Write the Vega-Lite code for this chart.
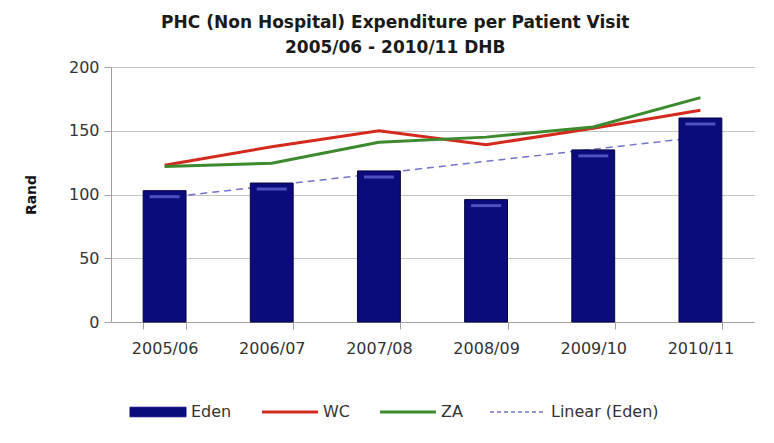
{
  "$schema": "https://vega.github.io/schema/vega-lite/v6.json",
  "width": 643,
  "height": 255,
  "padding": {"left": 24, "top": 14, "right": 18, "bottom": 10},
  "background": "white",
  "title": {
    "text": ["PHC (Non Hospital) Expenditure per Patient Visit", "2005/06 - 2010/11 DHB"],
    "font": "DejaVu Sans",
    "fontSize": 17,
    "fontWeight": "bold",
    "color": "#1a1a1a",
    "lineHeight": 25,
    "offset": 2,
    "frame": "bounds",
    "anchor": "middle",
    "dx": 6
  },
  "data": {
    "values": [
      {"period": "2005/06", "series": "Eden", "value": 103},
      {"period": "2006/07", "series": "Eden", "value": 109},
      {"period": "2007/08", "series": "Eden", "value": 118.5},
      {"period": "2008/09", "series": "Eden", "value": 96},
      {"period": "2009/10", "series": "Eden", "value": 135},
      {"period": "2010/11", "series": "Eden", "value": 160},
      {"period": "2005/06", "series": "WC", "value": 123},
      {"period": "2006/07", "series": "WC", "value": 137.5},
      {"period": "2007/08", "series": "WC", "value": 150},
      {"period": "2008/09", "series": "WC", "value": 139},
      {"period": "2009/10", "series": "WC", "value": 152},
      {"period": "2010/11", "series": "WC", "value": 166},
      {"period": "2005/06", "series": "ZA", "value": 122},
      {"period": "2006/07", "series": "ZA", "value": 124.5},
      {"period": "2007/08", "series": "ZA", "value": 141},
      {"period": "2008/09", "series": "ZA", "value": 145},
      {"period": "2009/10", "series": "ZA", "value": 153},
      {"period": "2010/11", "series": "ZA", "value": 176},
      {"period": "2005/06", "series": "Linear (Eden)", "value": 97.5},
      {"period": "2010/11", "series": "Linear (Eden)", "value": 145}
    ]
  },
  "encoding": {
    "x": {
      "field": "period",
      "type": "nominal",
      "sort": ["2005/06", "2006/07", "2007/08", "2008/09", "2009/10", "2010/11"],
      "scale": {"paddingInner": 0.6, "paddingOuter": 0.3},
      "axis": {
        "title": null,
        "labelAngle": 0,
        "labelFontSize": 16,
        "labelColor": "#333333",
        "tickBand": "extent",
        "tickSize": 7,
        "tickColor": "#a0a0a0",
        "domainColor": "#a0a0a0",
        "labelPadding": 11
      }
    },
    "y": {
      "field": "value",
      "type": "quantitative",
      "scale": {"domain": [0, 200]},
      "axis": {
        "title": "Rand",
        "values": [0, 50, 100, 150, 200],
        "labelFontSize": 16,
        "labelColor": "#333333",
        "tickSize": 7,
        "labelPadding": 5,
        "tickColor": "#a0a0a0",
        "domainColor": "#a0a0a0",
        "gridColor": "#c4c4c4",
        "titleFontSize": 14,
        "titleFontWeight": "bold",
        "titleColor": "#111111",
        "titlePadding": 30
      }
    },
    "color": {
      "field": "series",
      "type": "nominal",
      "scale": {
        "domain": ["Eden", "WC", "ZA", "Linear (Eden)"],
        "range": ["#0b0b7d", "#d42a1e", "#3d8a2e", "#7373c9"]
      },
      "legend": {
        "title": null,
        "orient": "none",
        "direction": "horizontal",
        "legendX": 19,
        "legendY": 337,
        "labelFontSize": 16,
        "labelColor": "#333333",
        "labelOffset": 6,
        "columnPadding": 24,
        "symbolType": "M-1,0H1",
        "encode": {
          "symbols": {
            "update": {
              "size": {"value": 3136},
              "x": {"value": 28},
              "shape": {"signal": "datum.value === 'Eden' ? 'M-1,-0.17H1V0.17H-1Z' : 'M-1,0H1'"},
              "fill": {"signal": "datum.value === 'Eden' ? '#0b0b6e' : 'transparent'"},
              "stroke": {"signal": "datum.value === 'Eden' ? '#05053a' : scale('color', datum.value)"},
              "strokeDash": {"signal": "datum.value === 'Linear (Eden)' ? [4, 3] : []"},
              "strokeWidth": {"signal": "datum.value === 'Eden' ? 1 : (datum.value === 'Linear (Eden)' ? 1.5 : 3)"},
              "opacity": {"value": 1}
            }
          },
          "labels": {
            "update": {
              "x": {"value": 61}
            }
          }
        }
      }
    }
  },
  "layer": [
    {
      "transform": [{"filter": "datum.series === 'Linear (Eden)'"}],
      "mark": {"type": "line", "strokeDash": [7, 5], "strokeWidth": 1.5}
    },
    {
      "transform": [{"filter": "datum.series === 'Eden'"}],
      "mark": {"type": "bar", "stroke": "#05053f", "strokeWidth": 1, "opacity": 1}
    },
    {
      "transform": [{"filter": "datum.series === 'Eden'"}],
      "mark": {"type": "tick", "orient": "horizontal", "size": 30, "thickness": 3, "yOffset": 6, "color": "#6060d0", "opacity": 0.8},
      "encoding": {"color": {"value": "#6060d0"}}
    },
    {
      "transform": [{"filter": "datum.series === 'WC' || datum.series === 'ZA'"}],
      "mark": {"type": "line", "strokeWidth": 3}
    }
  ],
  "config": {
    "view": {"stroke": null},
    "font": "DejaVu Sans"
  }
}
